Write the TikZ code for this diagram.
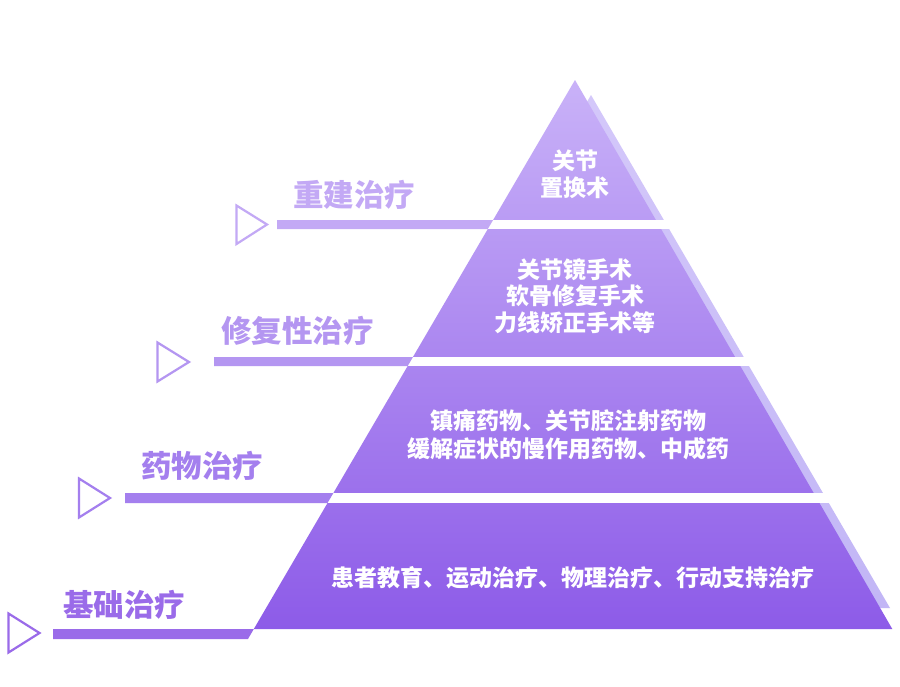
\documentclass[tikz,border=0pt]{standalone}
\usepackage{fontspec}
\setmainfont{Noto Sans CJK SC}
\definecolor{mainTop}{HTML}{C9B2F8}
\definecolor{mainBot}{HTML}{8D5BE8}
\definecolor{shTop}{HTML}{D4C8FA}
\definecolor{shBot}{HTML}{C2B6F6}
\definecolor{cA}{HTML}{C3A9F5}
\definecolor{cB}{HTML}{B496F1}
\definecolor{cC}{HTML}{A47FEE}
\definecolor{cD}{HTML}{9A6BE9}
\tikzset{
  ptext/.style={text=white, align=center, inner sep=0pt, font=\bfseries\fontsize{23}{26.5}\selectfont},
  lab/.style={anchor=west, inner sep=0pt, font=\bfseries\fontsize{30.5}{33}\selectfont},
  marker/.style={line width=2.2pt, line join=miter},
  gap/.style={fill=white}
}
\begin{document}
\begin{tikzpicture}[x=1pt,y=-1pt]
\useasboundingbox[fill=white] (0,0) rectangle (900,686);
% shadow pyramid
\shade[top color=shTop, bottom color=shBot] (591,95) -- (890,608) -- (291,608) -- cycle;
% main pyramid
\shade[top color=mainTop, bottom color=mainBot] (575,80) -- (892.3,629) -- (253.8,629) -- cycle;
% white gaps between tiers
\fill[gap] (0,220) rectangle (900,229);
\fill[gap] (0,357) rectangle (900,366);
\fill[gap] (0,493) rectangle (900,503);
% label bars
\fill[cA] (277,220) -- (493.1,220) -- (487.8,229) -- (277,229) -- cycle;
\fill[cB] (214,357) -- (413,357) -- (407.7,366) -- (214,366) -- cycle;
\fill[cC] (125,493) -- (333.4,493) -- (327.5,503) -- (125,503) -- cycle;
\fill[cD] (53,629) -- (253.8,629) -- (248,639) -- (53,639) -- cycle;
% markers
\draw[marker, cA] (236.5,205.5) -- (267,224.5) -- (236.5,244) -- cycle;
\draw[marker, cB] (157.5,342.5) -- (189,362) -- (157.5,381.5) -- cycle;
\draw[marker, cC] (79,478.5) -- (110,498) -- (79,517.5) -- cycle;
\draw[marker, cD] (8.5,613.5) -- (39.5,633) -- (8.5,652.5) -- cycle;
% labels
\node[lab, text=cA] (lA) at (293,195) {重建治疗};
\node[lab, text=cB] (lB) at (221,331) {修复性治疗};
\node[lab, text=cC] (lC) at (141,466) {药物治疗};
\node[lab, text=cD] (lD) at (63,605) {基础治疗};
% tier texts
\node[ptext] (t1) at (575,174.5) {关节\\置换术};
\node[ptext] (t2) at (575,296) {关节镜手术\\软骨修复手术\\力线矫正手术等};
\node[ptext, font=\bfseries\fontsize{23}{28}\selectfont] (t3) at (568,435) {镇痛药物、关节腔注射药物\\缓解症状的慢作用药物、中成药};
\node[ptext] (t4) at (573,578) {患者教育、运动治疗、物理治疗、行动支持治疗};
\end{tikzpicture}
\end{document}
